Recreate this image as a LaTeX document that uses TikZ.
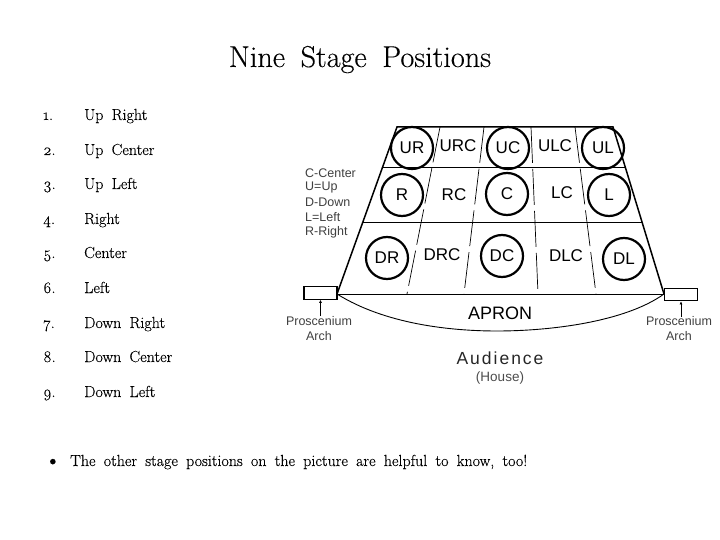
\documentclass[tikz,border=0pt]{standalone}
\usepackage{xcolor}
\usepackage{fontspec}
\setmainfont{Latin Modern Roman}[WordSpace=1.7,Numbers=OldStyle]
\newfontfamily\listfont{Latin Modern Roman}[WordSpace=1.7,Numbers=OldStyle,RawFeature={embolden=0.2}]
\newfontfamily\stagefont{Liberation Sans}
\usetikzlibrary{arrows.meta,positioning}
\tikzset{
  titletext/.style={anchor=base, inner sep=0pt, font=\listfont\fontsize{30.2}{34}\selectfont},
  listnum/.style={anchor=base west, inner sep=0pt, font=\listfont\fontsize{16}{18}\selectfont},
  listtext/.style={anchor=base west, inner sep=0pt, font=\listfont\fontsize{16}{18}\selectfont},
  circlepos/.style={draw, circle, line width=2.2pt, minimum size=42pt, inner sep=0pt, font=\stagefont\fontsize{17}{20}\selectfont},
  plainpos/.style={inner sep=0pt, font=\stagefont\fontsize{17}{20}\selectfont},
  keytext/.style={anchor=west, inner sep=0pt, text=black!75, font=\stagefont\fontsize{12.5}{13}\selectfont},
  archbox/.style={draw, line width=1.4pt, minimum width=33pt, minimum height=12.5pt, inner sep=0pt},
  archlabel/.style={align=center, inner sep=0pt, text=black!75, font=\stagefont\fontsize{12.5}{15}\selectfont},
  archarrow/.style={-{Latex[length=3pt,width=3pt]}, line width=0.7pt},
  stageline/.style={line width=0.9pt},
  stagedash/.style={line width=0.7pt, dash pattern=on 36pt off 6pt}
}
\begin{document}
\begin{tikzpicture}[x=1pt,y=-1pt]
\useasboundingbox (0,0) rectangle (720,540);
\node[titletext] (title) at (360,67) {Nine Stage Positions};
\node[listnum] (n1) at (43,120) {1.};
\node[listnum] (n2) at (43,155) {2.};
\node[listnum] (n3) at (43,189) {3.};
\node[listnum] (n4) at (43,224) {4.};
\node[listnum] (n5) at (43,258) {5.};
\node[listnum] (n6) at (43,293) {6.};
\node[listnum] (n7) at (43,328) {7.};
\node[listnum] (n8) at (43,362) {8.};
\node[listnum] (n9) at (43,397) {9.};
\node[listtext] (t1) at (84,120) {Up Right};
\node[listtext] (t2) at (84,155) {Up Center};
\node[listtext] (t3) at (84,189) {Up Left};
\node[listtext] (t4) at (84,224) {Right};
\node[listtext] (t5) at (84,258) {Center};
\node[listtext] (t6) at (84,293) {Left};
\node[listtext] (t7) at (84,328) {Down Right};
\node[listtext] (t8) at (84,362) {Down Center};
\node[listtext] (t9) at (84,397) {Down Left};
\node[listtext, font=\listfont\fontsize{24}{24}\selectfont] (bullet) at (44,468) {\textbullet};
\node[listtext] (note) at (70,466) {The other stage positions on the picture are helpful to know, too!};
% stage outline
\coordinate (tl) at (397,127);
\coordinate (tr) at (613,127);
\coordinate (bl) at (337,294);
\coordinate (br) at (664,294);
\draw[stageline, line width=1.5pt] (bl) -- (tl) -- (tr) -- (br);
\draw[stageline] (382,167) -- (625,167);
\draw[stageline] (362,222) -- (643,222);
\draw[stageline] (bl) -- (br);
\draw[stageline] (bl) .. controls (385,324) and (450,331) .. (497,331) .. controls (550,331) and (625,322) .. (br);
\draw[stagedash] (440,127) -- (407,294);
\draw[stagedash] (484,127) -- (464,294);
\draw[stagedash] (531,127) -- (538,294);
\draw[stagedash] (575,127) -- (596,294);
% positions
\node[circlepos] (ur) at (412,148) {UR};
\node[plainpos] (urc) at (458,146) {URC};
\node[circlepos] (uc) at (508,148) {UC};
\node[plainpos] (ulc) at (555,146) {ULC};
\node[circlepos] (ul) at (603,148) {UL};
\node[circlepos] (r) at (402,195) {R};
\node[plainpos] (rc) at (454,195) {RC};
\node[circlepos] (c) at (507,194) {C};
\node[plainpos] (lc) at (562,193) {LC};
\node[circlepos] (l) at (609,195) {L};
\node[circlepos] (dr) at (387,258) {DR};
\node[plainpos] (drc) at (442,255) {DRC};
\node[circlepos] (dc) at (502,256) {DC};
\node[plainpos] (dlc) at (566,256) {DLC};
\node[circlepos] (dl) at (624,259) {DL};
\node[plainpos, font=\stagefont\fontsize{18}{20}\selectfont] (apron) at (500,313) {APRON};
\node[plainpos, font=\stagefont\fontsize{17.5}{20}\selectfont, text=black!85] (aud) at (500,358) {A\kern2pt u\kern2pt d\kern2pt i\kern2pt e\kern2pt n\kern2pt c\kern2pt e};
\node[plainpos, font=\stagefont\fontsize{13.5}{15}\selectfont, text=black!70] (house) at (500,378) {(House)};
% key
\node[keytext] (k1) at (305,173) {C-Center};
\node[keytext] (k2) at (305,187) {U=Up};
\node[keytext] (k3) at (305,202) {D-Down};
\node[keytext] (k4) at (305,217) {L=Left};
\node[keytext] (k5) at (305,232) {R-Right};
% arch
\node[archbox] (archl) at (320.5,293) {};
\node[archbox] (archr) at (681,294.5) {};
\node[archlabel] (labl) at (319,328.5) {Proscenium\\Arch};
\node[archlabel] (labr) at (679,329) {Proscenium\\Arch};
\draw[archarrow] (labl.north -| archl) -- (archl);
\draw[archarrow] (labr.north -| archr) -- (archr);
\end{tikzpicture}
\end{document}
